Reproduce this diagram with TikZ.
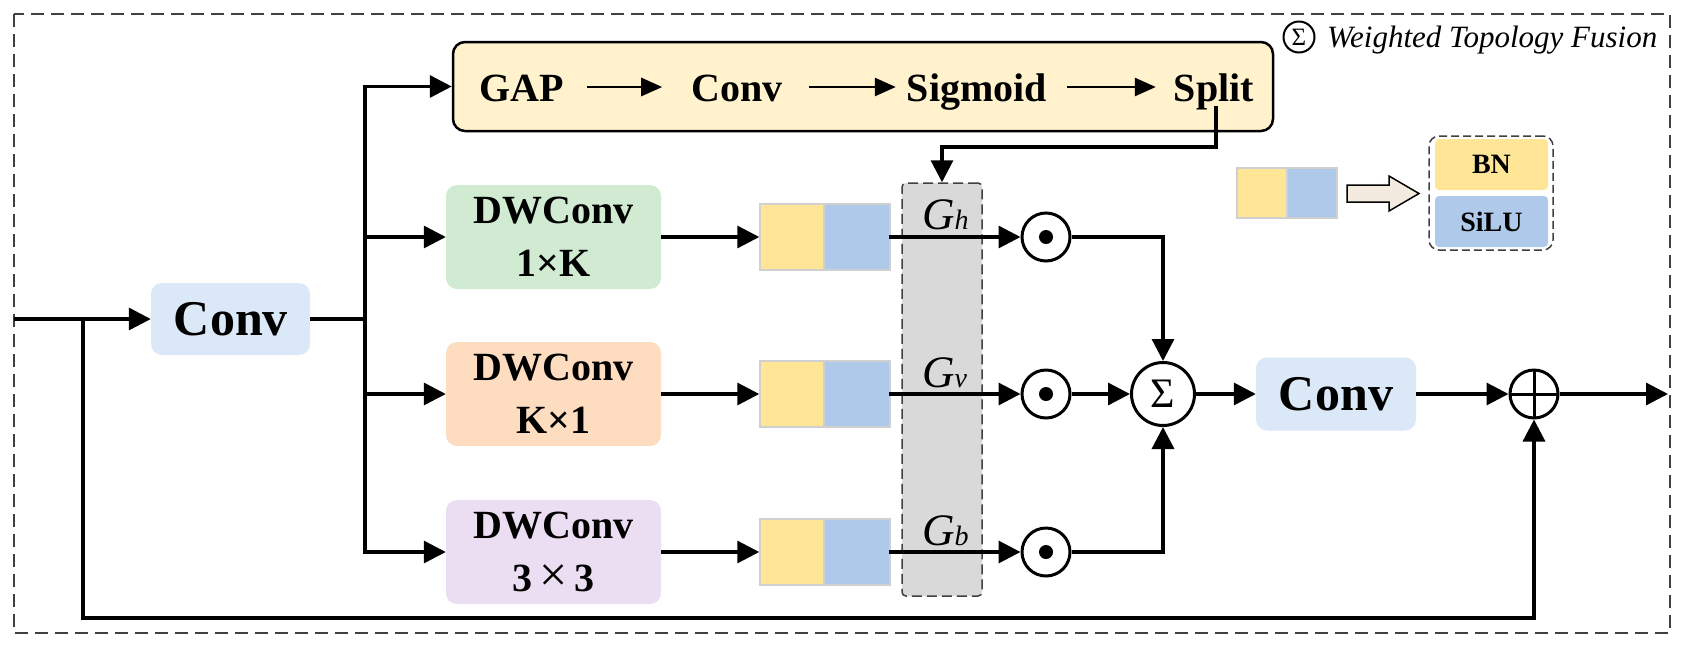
\documentclass[tikz,border=0pt]{standalone}
\usepackage{fontspec}
\setmainfont{Liberation Serif}
\usetikzlibrary{arrows.meta}
\definecolor{topfill}{HTML}{FFF2CC}
\definecolor{greenfill}{HTML}{D0EBD2}
\definecolor{orangefill}{HTML}{FDDCC0}
\definecolor{purplefill}{HTML}{EBDEF2}
\definecolor{convfill}{HTML}{DAE8F8}
\definecolor{yel}{HTML}{FFE596}
\definecolor{blu}{HTML}{AEC9E9}
\definecolor{gatefill}{HTML}{D9D9D9}
\definecolor{blkline}{HTML}{D0D0D0}
\definecolor{arrowfill}{HTML}{F3EBDF}
\definecolor{framecol}{HTML}{404040}
\tikzset{
  arr/.style={line width=3.3pt,-{Triangle[length=22pt,width=22pt]}},
  ln/.style={line width=3.3pt},
  sarr/.style={line width=2.8pt,-{Triangle[length=21pt,width=18pt]}},
  lbl/.style={font=\fontsize{40}{53}\selectfont\bfseries,align=center},
  rbox/.style={rounded corners=11pt,inner sep=0pt,lbl},
  toptxt/.style={font=\fontsize{40}{48}\selectfont\bfseries,inner sep=0pt,anchor=base},
  blk/.style={draw=blkline,line width=1.5pt,inner sep=0pt,minimum height=66pt},
  opc/.style={circle,draw,line width=3pt,inner sep=0pt},
  gtxt/.style={anchor=base west,inner sep=0pt,font=\fontsize{45}{45}\selectfont\itshape},
}
\newcommand{\gsub}[1]{{\fontsize{28}{28}\selectfont #1}}
\begin{document}
\begin{tikzpicture}[x=1pt,y=-1pt]
\useasboundingbox (0,0) rectangle (1683,646);
% outer frame
\draw[framecol,line width=1.5pt,dash pattern=on 13pt off 7pt] (14,14) rectangle (1670,633);
% legend top right
\node[circle,draw,line width=2pt,minimum size=31pt,inner sep=0pt,font=\fontsize{25}{25}\selectfont] (lsig) at (1299,37) {Σ};
\node[anchor=base west,inner sep=0pt,font=\fontsize{31}{31}\selectfont\itshape] (legt) at (1327,47) {Weighted Topology Fusion};
% top box
\node[draw,line width=2.5pt,fill=topfill,rounded corners=12pt,minimum width=820pt,minimum height=89pt,inner sep=0pt] (top) at (863,86.5) {};
\node[toptxt] (gap) at (522,101) {GAP};
\node[toptxt] (tconv) at (737,101) {Conv};
\node[toptxt] (sigm) at (977,101) {Sigmoid};
\node[toptxt] (split) at (1214,101) {Split};
\draw[sarr] ([shift={(23,-14)}]gap.base east) -- ([shift={(-29,-14)}]tconv.base west);
\draw[sarr] ([shift={(26,-14)}]tconv.base east) -- ([shift={(-11,-14)}]sigm.base west);
\draw[sarr] ([shift={(20,-14)}]sigm.base east) -- ([shift={(-18,-14)}]split.base west);
% gate box
\node[draw=framecol,line width=1.5pt,dash pattern=on 10pt off 5pt,fill=gatefill,rounded corners=4pt,minimum width=80pt,minimum height=413pt,inner sep=0pt] (gate) at (942,389.5) {};
% first conv
\coordinate (in) at (14,319);
\node[rbox,fill=convfill,minimum width=159pt,minimum height=72pt,font=\fontsize{50}{60}\selectfont\bfseries] (conv1) at (230.5,319) {C\kern1pt onv};
% DW convs
\node[rbox,fill=greenfill,minimum width=215pt,minimum height=104pt] (dw1) at (553.5,237) {DWConv\\1×K};
\node[rbox,fill=orangefill,minimum width=215pt,minimum height=104pt] (dw2) at (553.5,394) {DWConv\\K×1};
\node[rbox,fill=purplefill,minimum width=215pt,minimum height=104pt] (dw3) at (553.5,552) {DWConv\\3\,{\fontsize{50}{50}\selectfont\mdseries ×}\,3};
% BN/SiLU blocks
\node[blk,fill=yel,minimum width=64pt] (b1) at (792,237) {};
\node[blk,fill=blu,minimum width=66pt] (s1) at (857,237) {};
\node[blk,fill=yel,minimum width=64pt] (b2) at (792,394) {};
\node[blk,fill=blu,minimum width=66pt] (s2) at (857,394) {};
\node[blk,fill=yel,minimum width=64pt] (b3) at (792,552) {};
\node[blk,fill=blu,minimum width=66pt] (s3) at (857,552) {};
% gate labels
\node[gtxt] (gh) at (922,229) {G\gsub{h}};
\node[gtxt] (gv) at (922,387) {G\gsub{v}};
\node[gtxt] (gb) at (922,545) {G\gsub{b}};
% odot
\node[opc,minimum size=48pt] (o1) at (1046,237) {};
\node[opc,minimum size=48pt] (o2) at (1046,394) {};
\node[opc,minimum size=48pt] (o3) at (1046,552) {};
\fill (o1.center) circle[radius=7pt];
\fill (o2.center) circle[radius=7pt];
\fill (o3.center) circle[radius=7pt];
% sigma
\node[opc,minimum size=63pt,font=\fontsize{42}{42}\selectfont] (sig) at (1163,394) {Σ};
% conv2
\node[rbox,fill=convfill,minimum width=160pt,minimum height=73pt,font=\fontsize{50}{60}\selectfont\bfseries] (conv2) at (1336,394) {C\kern1pt onv};
% oplus
\node[opc,minimum size=48pt,path picture={
  \draw[line width=3pt] (path picture bounding box.north) -- (path picture bounding box.south);
  \draw[line width=3pt] (path picture bounding box.west) -- (path picture bounding box.east);}] (oplus) at (1534,394) {};
\coordinate (out) at (1668,394);
% coordinates for connectors
\coordinate (br) at (365,319);
\coordinate (fb) at (83,319);
\coordinate (fbb) at (83,618);
\coordinate (sp) at (1216,106);
\coordinate (spk) at (1216,147);
% connectors
\draw[arr] (in) -- (conv1.west);
\draw[ln] (conv1.east) -- (br);
\draw[arr] (br) |- (top.west);
\draw[arr] (br) |- (dw1.west);
\draw[arr] (br) |- (dw2.west);
\draw[arr] (br) |- (dw3.west);
\draw[arr] (dw1.east) -- (b1.west);
\draw[arr] (dw2.east) -- (b2.west);
\draw[arr] (dw3.east) -- (b3.west);
\draw[arr] ([xshift=-2pt]s1.east) -- (o1.west);
\draw[arr] ([xshift=-2pt]s2.east) -- (o2.west);
\draw[arr] ([xshift=-2pt]s3.east) -- (o3.west);
\draw[arr] (sp) -- (spk) -| (gate.north);
\draw[arr] (o1.east) -| (sig.north);
\draw[arr] (o2.east) -- (sig.west);
\draw[arr] (o3.east) -| (sig.south);
\draw[arr] (sig.east) -- (conv2.west);
\draw[arr] (conv2.east) -- (oplus.west);
\draw[arr] (oplus.east) -- (out);
\draw[arr] (fb) -- (fbb) -| (oplus.south);
% legend BN/SiLU
\node[fill=yel,draw=blkline,line width=1.5pt,minimum width=50pt,minimum height=50pt,inner sep=0pt] (lb) at (1262,193) {};
\node[fill=blu,draw=blkline,line width=1.5pt,minimum width=50pt,minimum height=50pt,inner sep=0pt] (ls) at (1312,193) {};
\filldraw[fill=arrowfill,line width=1.5pt] (1347,185) -- (1389,185) -- (1389,176) -- (1419,193.5) -- (1389,211) -- (1389,202) -- (1347,202) -- cycle;
\node[draw=framecol,line width=1.5pt,dash pattern=on 8pt off 4pt,rounded corners=10pt,minimum width=124pt,minimum height=114pt,inner sep=0pt] (lbox) at (1491,193) {};
\node[fill=yel,rounded corners=4pt,minimum width=113pt,minimum height=51pt,inner sep=0pt,font=\fontsize{28}{28}\selectfont\bfseries] (lbn) at (1491.5,164.5) {BN};
\node[fill=blu,rounded corners=4pt,minimum width=113pt,minimum height=51pt,inner sep=0pt,font=\fontsize{28}{28}\selectfont\bfseries] (lsilu) at (1491.5,221.5) {SiLU};
\end{tikzpicture}
\end{document}
